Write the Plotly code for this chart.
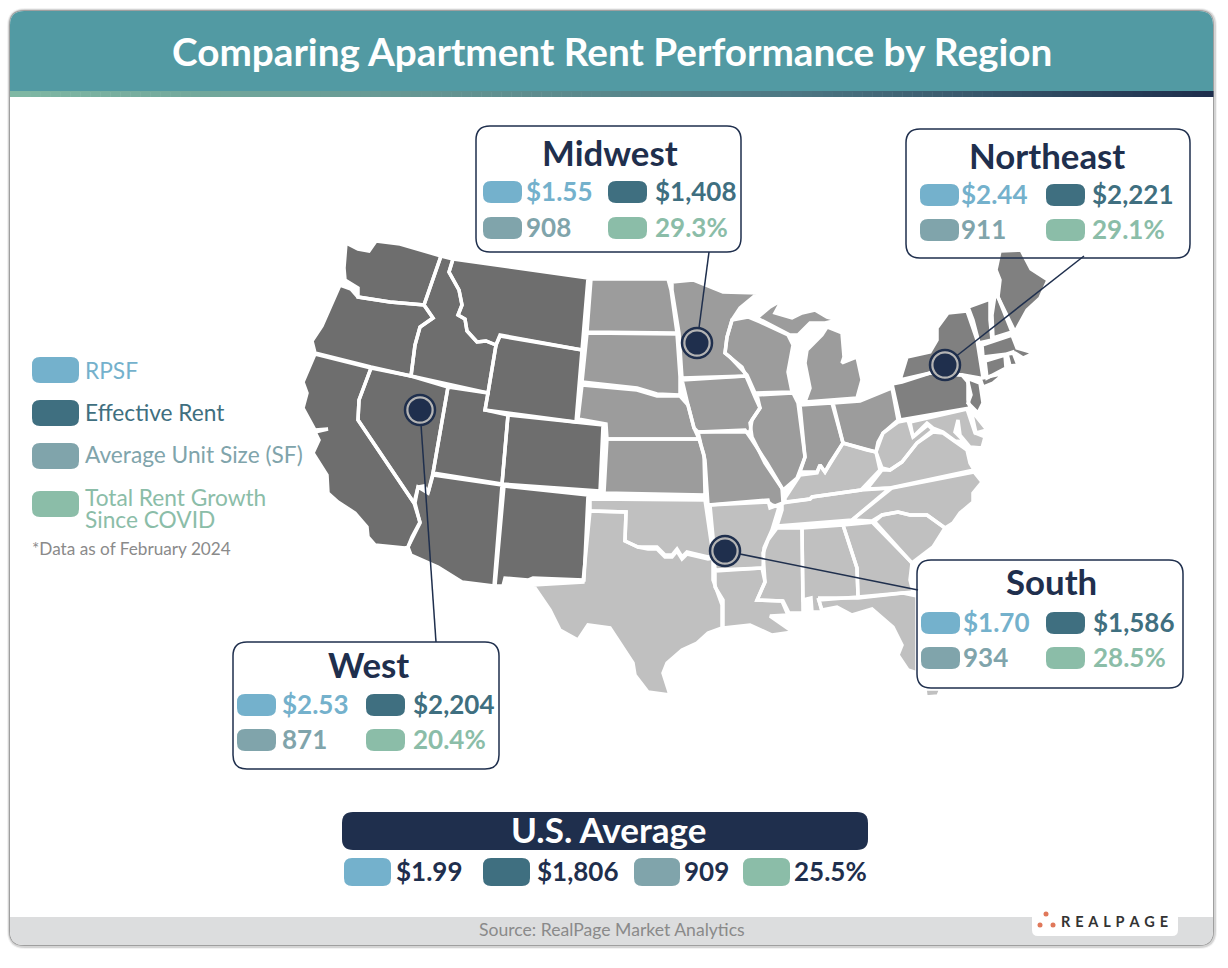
import plotly.graph_objects as go

# values
REGIONS = ["Midwest", "Northeast", "West", "South"]
RPSF = ["$1.55", "$2.44", "$2.53", "$1.70"]
EFFECTIVE_RENT = ["$1,408", "$2,221", "$2,204", "$1,586"]
UNIT_SIZE = ["908", "911", "871", "934"]
RENT_GROWTH = ["29.3%", "29.1%", "20.4%", "28.5%"]
US_AVERAGE = ["$1.99", "$1,806", "909", "25.5%"]
LEGEND_LABELS = ["RPSF", "Effective Rent", "Average Unit Size (SF)", "Total Rent Growth", "Since COVID"]

WA = [(346,243),(358,249),(369,251),(376,241),(400,244),(441,256),(424,305),(390,302),(358,297),(358,288),(345,280),(344,268)]
OR = [(340,285),(351,289),(358,297),(390,302),(424,305),(433,318),(420,327),(415,345),(411,376),(371,367),(315,353),(312,341),(322,326),(331,305)]
ID = [(441,256),(453,259),(449,272),(459,290),(462,305),(458,315),(465,319),(467,331),(477,342),(486,341),(496,345),(488,393),(411,376),(415,345),(420,327),(433,318),(424,305)]
MT = [(453,259),(588,278),(582,350),(500,335),(496,345),(486,341),(477,342),(467,331),(465,319),(458,315),(462,305),(459,290),(449,272)]
WY = [(500,336),(582,350),(576,422),(485,410),(488,393),(496,345)]
NV = [(371,368),(411,376),(448,387),(433,473),(428,493),(424,486),(418,487),(414,503),(358,420),(359,400)]
CA = [(315,354),(371,368),(359,400),(358,420),(414,503),(417,513),(420,522),(412,537),(408,547),(405,548),(375,545),(368,537),(367,527),(355,513),(338,502),(328,493),(327,475),(313,453),(319,440),(315,432),(328,429),(315,430),(303,408),(307,393),(303,382)]
UT = [(448,387),(488,393),(485,410),(508,415),(502,484),(433,473)]
CO = [(508,415),(576,422),(603,425),(600,491),(502,484)]
AZ = [(433,475),(502,485),(494,586),(462,582),(438,567),(411,555),(408,547),(420,523),(415,503),(418,487),(428,493)]
NM = [(504,486),(588,495),(584,580),(533,578),(528,580),(505,578),(503,586),(495,586)]

ND = [(591,279),(668,279),(671,290),(677,333),(587,332)]
SD = [(587,333),(677,334),(680,377),(680,395),(657,394),(637,388),(582,382)]
NE = [(582,385),(637,390),(657,396),(680,396),(688,405),(694,428),(699,439),(607,439),(606,424),(578,419)]
KS = [(607,439),(699,439),(704,455),(705,495),(604,493)]
MN = [(672,282),(693,280),(723,292),(758,293),(740,308),(732,320),(727,337),(725,353),(742,367),(746,376),(682,378),(679,333),(672,290)]
IA = [(682,380),(746,376),(755,397),(760,408),(752,420),(750,432),(698,432),(694,428),(688,405)]
MO = [(698,432),(745,430),(752,440),(767,463),(782,488),(783,503),(770,508),(768,500),(708,505),(705,460),(701,445)]
WI = [(748,317),(760,322),(788,335),(793,345),(788,372),(792,392),(755,393),(747,375),(730,357),(725,353),(727,337),(732,320)]
IL = [(757,395),(793,393),(798,403),(805,457),(797,478),(783,490),(765,463),(752,437),(750,423),(760,408)]
IN = [(800,405),(832,403),(843,443),(830,463),(825,472),(820,465),(817,472),(800,472),(805,457)]
OH = [(833,403),(860,401),(892,388),(898,420),(883,433),(878,442),(876,452),(867,450),(843,443)]
MI_LOWER = [(827,327),(842,333),(844,357),(842,363),(857,357),(862,380),(857,398),(805,402),(810,388),(805,363),(807,350),(822,335)]
MI_UPPER = [(757,318),(770,307),(782,300),(775,313),(792,318),(802,313),(815,310),(827,317),(838,320),(825,323),(810,323),(798,335),(790,335),(770,325)]

PA = [(892,384),(902,382),(930,373),(962,375),(968,382),(968,400),(970,408),(900,420)]
NY = [(900,380),(907,357),(930,352),(937,340),(937,328),(948,313),(967,311),(977,340),(983,378),(1005,373),(993,383),(983,387),(980,378),(963,375),(930,373)]
NJ = [(967,378),(980,383),(983,403),(978,413),(968,403),(971,395)]
ME = [(1000,251),(1021,250),(1031,269),(1048,280),(1040,298),(1027,310),(1015,332),(998,297),(1000,280),(996,270)]
NH = [(995,295),(998,297),(1012,332),(993,338),(992,315)]
VT = [(968,307),(990,299),(990,320),(992,340),(979,343),(973,320)]
MA = [(982,345),(1012,335),(1017,348),(1034,353),(1023,358),(1015,353),(983,357)]
CT = [(985,361),(1005,355),(1006,368),(987,378)]
RI = [(1007,354),(1013,352),(1018,365),(1010,366)]

OK = [(590,499),(705,500),(713,555),(708,557),(687,552),(682,557),(677,549),(672,555),(665,555),(657,547),(648,547),(638,547),(625,541),(626,512),(590,511)]
TX = [(590,511),(626,512),(625,541),(638,547),(648,549),(657,549),(665,557),(672,557),(677,551),(682,559),(687,554),(708,559),(713,558),(713,580),(722,605),(722,628),(708,633),(697,643),(682,650),(667,663),(663,673),(670,695),(648,692),(635,675),(633,663),(610,628),(588,625),(578,640),(560,630),(550,610),(533,585),(583,582)]
AR = [(710,505),(768,502),(772,505),(779,507),(772,530),(764,548),(763,568),(715,570),(713,537)]
LA = [(715,571),(762,568),(765,582),(757,600),(782,601),(788,615),(770,616),(793,632),(772,635),(750,625),(723,628),(723,600),(715,587)]
MS = [(777,528),(802,528),(803,613),(789,613),(783,601),(757,600),(765,582),(763,553),(768,540)]
AL = [(802,528),(843,525),(857,568),(858,597),(819,600),(822,612),(812,612),(811,598),(803,600)]
GA = [(843,525),(875,522),(912,563),(910,580),(913,592),(858,597),(857,568)]
FL = [(818,598),(858,598),(903,593),(917,596),(917,673),(908,670),(898,655),(902,645),(893,627),(872,609),(852,615),(837,607),(822,610)]
FL_TIP = [(925,689),(941,689),(938,696),(926,697)]
KY = [(785,498),(800,475),(817,473),(820,465),(825,472),(830,463),(843,443),(867,450),(876,452),(880,470),(861,490),(812,497),(810,499),(785,502)]
TN = [(782,503),(810,499),(812,497),(861,490),(890,488),(852,520),(777,526),(782,510)]
WV = [(876,452),(883,433),(898,422),(908,420),(913,437),(928,425),(933,430),(917,443),(902,462),(890,470),(882,468)]
MD = [(910,422),(967,409),(975,433),(985,437),(982,448),(970,447),(960,435),(958,420),(955,432),(965,442),(955,441),(943,432),(933,428),(927,423),(913,437)]
DE = [(971,410),(987,430),(976,433)]
VA = [(867,489),(882,470),(890,470),(902,462),(917,443),(933,432),(943,433),(967,450),(970,463),(974,470),(890,488)]
NC = [(892,488),(974,472),(982,482),(973,493),(973,502),(960,513),(953,523),(945,528),(927,515),(910,515),(898,512),(882,515),(872,521),(852,520)]
SC = [(873,523),(882,515),(898,512),(910,515),(927,515),(945,528),(933,547),(912,563)]

WEST_STATES = [WA, OR, ID, MT, WY, NV, CA, UT, CO, AZ, NM]
MIDWEST_STATES = [ND, SD, NE, KS, MN, IA, MO, WI, IL, IN, OH, MI_LOWER, MI_UPPER]
NORTHEAST_STATES = [PA, NY, NJ, ME, NH, VT, MA, CT, RI]
SOUTH_STATES = [OK, TX, AR, LA, MS, AL, GA, FL, FL_TIP, TN, KY, WV, VA, NC, SC, MD, DE]

NAVY = "#1f2f4d"
PILL_COLORS = ["#74b1cc", "#3f6f80", "#80a4ab", "#8bbda8"]
FONT = "Lato"


def rounded(x0, y0, x1, y1, r, top=True, bottom=True):
    # svg path of a rectangle with rounded corners
    rt = r if top else 0
    rb = r if bottom else 0
    return (f"M{x0+rt},{y0} L{x1-rt},{y0} Q{x1},{y0} {x1},{y0+rt} L{x1},{y1-rb} Q{x1},{y1} {x1-rb},{y1} "
            f"L{x0+rb},{y1} Q{x0},{y1} {x0},{y1-rb} L{x0},{y0+rt} Q{x0},{y0} {x0+rt},{y0} Z")


def add_box(fig, x0, y0, x1, y1, r, fill, line=None, width=0, top=True, bottom=True, layer="above"):
    fig.add_shape(type="path", path=rounded(x0, y0, x1, y1, r, top, bottom), fillcolor=fill,
                  line=dict(color=line or fill, width=width), layer=layer)


def add_text(fig, x, y, text, size, color, anchor="left", bold=False):
    # annotations sit about 2px right and 1px low of the asked position
    if anchor == "left":
        x -= 2.5
    fig.add_annotation(x=x, y=y - 1, text=f"<b>{text}</b>" if bold else text, showarrow=False, xanchor=anchor,
                       yanchor="middle", font=dict(family=FONT, size=size, color=color), align="left")


def mix(a, b, t):
    return tuple(a[i] + (b[i] - a[i]) * t for i in range(3))


fig = go.Figure()

# card and shadow
add_box(fig, 7, 8, 1217, 949, 18, "rgba(0,0,0,0.05)", layer="below")
add_box(fig, 8, 9, 1216, 948, 17, "rgba(0,0,0,0.12)", layer="below")
add_box(fig, 9, 10, 1214, 946, 15, "rgba(0,0,0,0.25)", layer="below")
add_box(fig, 10, 11, 1213, 945, 14, "white", layer="below")

# map: fills first, then all white borders so no fill covers a border
REGION_STATES = [WEST_STATES, MIDWEST_STATES, NORTHEAST_STATES, SOUTH_STATES]
REGION_GREYS = ["#6e6e6e", "#9c9c9c", "#808080", "#c0c0c0"]
for states, color in zip(REGION_STATES, REGION_GREYS):
    for state in states:
        fig.add_trace(go.Scatter(x=[p[0] for p in state], y=[p[1] for p in state], mode="lines", fill="toself",
                                 fillcolor=color, line=dict(color=color, width=0), hoverinfo="skip"))
for states in REGION_STATES:
    for state in states:
        closed = state + state[:1]
        fig.add_trace(go.Scatter(x=[p[0] for p in closed], y=[p[1] for p in closed], mode="lines",
                                 line=dict(color="white", width=3.5), hoverinfo="skip"))

# callout lines and location dots
CALLOUT_X = [[709, 697], [1084, 945], [436, 420], [918, 725]]
CALLOUT_Y = [[252, 343], [256, 365], [642, 410], [590, 551]]
for xs, ys in zip(CALLOUT_X, CALLOUT_Y):
    fig.add_trace(go.Scatter(x=xs, y=ys, mode="lines", line=dict(color=NAVY, width=1.5), hoverinfo="skip"))
dot_x = [xs[1] for xs in CALLOUT_X]
dot_y = [ys[1] for ys in CALLOUT_Y]
fig.add_trace(go.Scatter(x=dot_x, y=dot_y, mode="markers", hoverinfo="skip",
                         marker=dict(size=30, color="#b4b4b4", line=dict(color=NAVY, width=2.5))))
fig.add_trace(go.Scatter(x=dot_x, y=dot_y, mode="markers", hoverinfo="skip", marker=dict(size=23, color=NAVY)))

# header
add_box(fig, 10, 11, 1213, 92, 14, "#529aa3", bottom=False)
n = 120
for i in range(n):
    t = i / (n - 1)
    if t < 0.65:
        c = mix((127, 184, 164), (78, 120, 132), t / 0.65)
    else:
        c = mix((78, 120, 132), (31, 47, 77), (t - 0.65) / 0.35)
    x0 = 10 + 1203 * i / n
    fig.add_shape(type="rect", x0=x0, x1=x0 + 1203 / n + 0.5, y0=91, y1=97, layer="above", line_width=0,
                  fillcolor="rgb(%d,%d,%d)" % c)
add_text(fig, 612, 52, "Comparing Apartment Rent Performance by Region", 38.7, "white", "center", True)

# footer
add_box(fig, 10, 917, 1213, 945, 14, "#dcddde", top=False)
add_text(fig, 612, 930, "Source: RealPage Market Analytics", 17.6, "#8a8a8a", "center")
add_box(fig, 1032, 905, 1178, 936, 6, "white")
for cx, cy in [(1046, 914), (1040, 925), (1053, 925)]:
    fig.add_shape(type="circle", x0=cx - 2.5, x1=cx + 2.5, y0=cy - 2.5, y1=cy + 2.5, fillcolor="#e0785a",
                  line_width=0, layer="above")
add_text(fig, 1061, 922, "R\u2004E\u2004A\u2004L\u2004P\u2004A\u2004G\u2004E", 14.5, "#333333", bold=True)

# region panels: box, title centre, pill columns, text columns, row centres
PANEL_BOXES = [(476, 126, 741, 252), (906, 129, 1190, 258), (233, 642, 499, 769), (917, 560, 1183, 688)]
PANEL_TITLES = [(610, 153), (1047, 156), (368, 665), (1051, 582)]
PANEL_PILLS = [(483, 608), (920, 1046), (237, 366), (921, 1046)]
PANEL_TEXT = [(526, 655), (961, 1092), (282, 413), (963, 1093)]
PANEL_ROWS = [(192, 228), (195, 230), (705, 740), (623, 658)]

for i, region in enumerate(REGIONS):
    # white fill stays under the map (Maine pokes into its box), the border goes on top
    add_box(fig, *PANEL_BOXES[i], 14, "white", layer="below")
    add_box(fig, *PANEL_BOXES[i], 14, "rgba(0,0,0,0)", NAVY, 1.5)
    add_text(fig, *PANEL_TITLES[i], region, 34.8, NAVY, "center", True)
    cells = [(0, 0, RPSF[i]), (1, 0, EFFECTIVE_RENT[i]), (0, 1, UNIT_SIZE[i]), (1, 1, RENT_GROWTH[i])]
    for k, (col, row, value) in enumerate(cells):
        px = PANEL_PILLS[i][col]
        py = PANEL_ROWS[i][row]
        add_box(fig, px, py - 11, px + 39, py + 11, 8, PILL_COLORS[k])
        add_text(fig, PANEL_TEXT[i][col], py, value, 26, PILL_COLORS[k], bold=True)

# legend
LEGEND_PILL_Y = [370, 413, 456, 504]
LEGEND_TEXT_Y = [371, 413, 455, 498, 520]
LEGEND_TEXT_COLORS = PILL_COLORS + PILL_COLORS[-1:]
for y, color in zip(LEGEND_PILL_Y, PILL_COLORS):
    add_box(fig, 32, y - 13, 79, y + 13, 8, color)
for label, y, color in zip(LEGEND_LABELS, LEGEND_TEXT_Y, LEGEND_TEXT_COLORS):
    add_text(fig, 85, y, label, 22.7, color)
add_text(fig, 32, 549, "*Data as of February 2024", 17.2, "#8a8a8a")

# U.S. average
add_box(fig, 342, 812, 868, 850, 11, NAVY)
add_text(fig, 608, 830, "U.S. Average", 35, "white", "center", True)
AVG_PILLS = [(344, 391), (483, 530), (634, 680), (743, 790)]
AVG_TEXT = [396, 537, 684, 794]
for (x0, x1), tx, value, color in zip(AVG_PILLS, AVG_TEXT, US_AVERAGE, PILL_COLORS):
    add_box(fig, x0, 858, x1, 886, 8, color)
    add_text(fig, tx, 872, value, 26, NAVY, bold=True)

fig.update_layout(width=1228, height=968, margin=dict(l=0, r=0, t=0, b=0), showlegend=False,
                  paper_bgcolor="white", plot_bgcolor="white",
                  xaxis=dict(range=[0, 1228], visible=False, fixedrange=True),
                  yaxis=dict(range=[968, 0], visible=False, fixedrange=True))
fig.write_html("out.html", config={"displayModeBar": False},
               post_script="document.body.style.margin='0';document.body.style.overflow='hidden';")
